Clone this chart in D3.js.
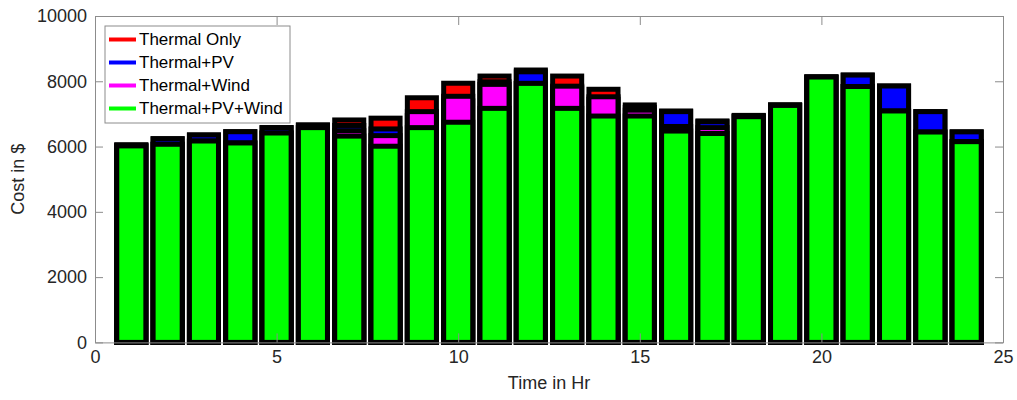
<!DOCTYPE html>
<html>
<head>
<meta charset="utf-8">
<script src="https://cdn.jsdelivr.net/npm/d3@7"></script>
<style>
  body { margin: 0; background: #fff; }
  svg { display: block; font-family: "Liberation Sans", Arial, sans-serif; }
  .axis path, .axis line { stroke: #8c8c8c; }
  .axis text { fill: #262626; font-size: 18px; }
</style>
</head>
<body>
<svg id="chart" width="1017" height="400"></svg>
<script>
// hourly cost values
const hours = d3.range(1, 25);
const thermalOnly = [6050, 6240, 6355, 6455, 6580, 6660, 6815, 6870, 7495, 7940, 8160, 8345,
                     8160, 7755, 7275, 7090, 6785, 6955, 7275, 8130, 8190, 7855, 7070, 6450];
const thermalPV   = [6050, 6240, 6355, 6455, 6580, 6660, 6646, 6540, 6950, 7400, 7985, 8290,
                     7800, 7450, 7200, 7070, 6760, 6940, 7270, 8130, 8190, 7855, 7070, 6450];
const thermalWind = [6020, 6070, 6170, 6110, 6415, 6580, 6485, 6335, 7070, 7540, 7905, 7935,
                     7850, 7525, 7115, 6615, 6580, 6930, 7270, 8130, 7840, 7090, 6445, 6150];
const thermalPVWind = [6020, 6070, 6170, 6110, 6415, 6580, 6320, 6010, 6580, 6745, 7170, 7935,
                       7170, 6935, 6935, 6475, 6400, 6915, 7260, 8130, 7840, 7090, 6445, 6150];

const seriesNames = ["Thermal Only", "Thermal+PV", "Thermal+Wind", "Thermal+PV+Wind"];
const seriesColors = ["#ff0000", "#0000ff", "#ff00ff", "#00ff00"];
const seriesData = [thermalOnly, thermalPV, thermalWind, thermalPVWind];

const xTicks = [0, 5, 10, 15, 20, 25];
const yTicks = [0, 2000, 4000, 6000, 8000, 10000];

const plot = { left: 95, right: 1003, top: 16, bottom: 342.4 };

const svg = d3.select("#chart");

const x = d3.scaleLinear().domain([0, 25]).range([plot.left, plot.right]);
const y = d3.scaleLinear().domain([0, 10000]).range([plot.bottom, plot.top]);

const barW = x(0.8) - x(0);

// bars are overlaid, tallest series first
seriesData.forEach((vals, s) => {
  svg.append("g")
    .selectAll("rect")
    .data(vals)
    .enter()
    .append("rect")
    .attr("x", (d, i) => x(hours[i]) - barW / 2)
    .attr("y", d => y(d))
    .attr("width", barW)
    .attr("height", d => y(0) - y(d))
    .attr("fill", seriesColors[s])
    .attr("stroke", "black")
    .attr("stroke-width", 5);
});

// axes box with inward ticks
svg.append("g").attr("class", "axis")
  .attr("transform", `translate(0,${plot.bottom})`)
  .call(d3.axisBottom(x).tickValues(xTicks).tickSize(-9).tickSizeOuter(0).tickPadding(8));

svg.append("g").attr("class", "axis")
  .attr("transform", `translate(0,${plot.top})`)
  .call(d3.axisTop(x).tickValues(xTicks).tickSize(-9).tickSizeOuter(0).tickFormat(""));

svg.append("g").attr("class", "axis")
  .attr("transform", `translate(${plot.left},0)`)
  .call(d3.axisLeft(y).tickValues(yTicks).tickSize(-8).tickSizeOuter(0).tickPadding(8)
    .tickFormat(d3.format("d")));

svg.append("g").attr("class", "axis")
  .attr("transform", `translate(${plot.right},0)`)
  .call(d3.axisRight(y).tickValues(yTicks).tickSize(-8).tickSizeOuter(0).tickFormat(""));

// axis labels
svg.append("text")
  .text("Time in Hr")
  .attr("x", (plot.left + plot.right) / 2)
  .attr("y", 389)
  .attr("text-anchor", "middle")
  .attr("font-size", 18)
  .attr("fill", "#262626");

svg.append("text")
  .text("Cost in $")
  .attr("transform", `translate(24,${(plot.top + plot.bottom) / 2}) rotate(-90)`)
  .attr("text-anchor", "middle")
  .attr("font-size", 18)
  .attr("fill", "#262626");

// legend
const legend = svg.append("g").attr("transform", "translate(105,26)");
legend.append("rect")
  .attr("width", 185).attr("height", 97)
  .attr("fill", "white").attr("stroke", "#8c8c8c");

seriesNames.forEach((name, i) => {
  const ly = 13.5 + i * 23;
  legend.append("line")
    .attr("x1", 4).attr("x2", 31)
    .attr("y1", ly).attr("y2", ly)
    .attr("stroke", seriesColors[i]).attr("stroke-width", 4);
  legend.append("text")
    .text(name)
    .attr("x", 34).attr("y", ly)
    .attr("dy", "0.35em")
    .attr("font-size", 17)
    .attr("fill", "#000");
});
</script>
</body>
</html>
